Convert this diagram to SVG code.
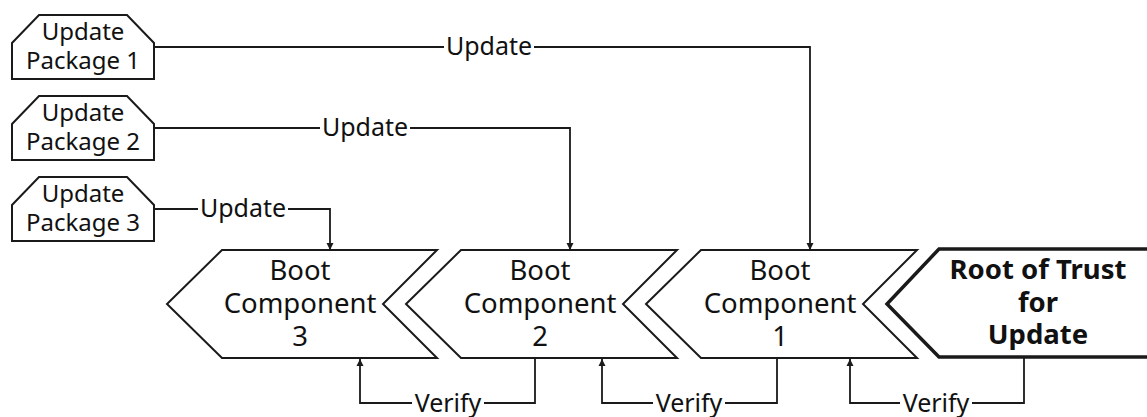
<svg xmlns="http://www.w3.org/2000/svg" width="1147" height="417" viewBox="0 0 1147 417">
  <style>
    .shape { fill: #fff; stroke: #1a1a1a; stroke-width: 2; stroke-linejoin: miter; }
    .root { fill: #fff; stroke: #1a1a1a; stroke-width: 3.5; }
    .wire { fill: none; stroke: #1a1a1a; stroke-width: 1.8; }
    text { font-family: "Noto Sans", "Open Sans", sans-serif; fill: #111; text-anchor: middle; }
    .pkg { font-size: 24px; }
    .boot { font-size: 27.5px; }
    .rot { font-size: 27.5px; font-weight: bold; }
    .lbl { font-size: 25px; }
    .bg { fill: #fff; stroke: none; }
  </style>
  <defs>
    <marker id="arrow" viewBox="0 0 10 10" refX="10" refY="5" markerWidth="7" markerHeight="9" markerUnits="userSpaceOnUse" orient="auto">
      <path d="M0,0 L10,5 L0,10 z" fill="#1a1a1a"/>
    </marker>
  </defs>

  <!-- update packages -->
  <g id="pkg1">
    <path class="shape" d="M12,43 L39,15 L127,15 L154,43 L154,79 L12,79 Z"/>
    <text class="pkg" x="83" y="40">Update</text>
    <text class="pkg" x="83" y="69">Package 1</text>
  </g>
  <g id="pkg2">
    <path class="shape" d="M12,124 L39,96 L127,96 L154,124 L154,160 L12,160 Z"/>
    <text class="pkg" x="83" y="121">Update</text>
    <text class="pkg" x="83" y="150">Package 2</text>
  </g>
  <g id="pkg3">
    <path class="shape" d="M12,205 L39,177 L127,177 L154,205 L154,241 L12,241 Z"/>
    <text class="pkg" x="83" y="202">Update</text>
    <text class="pkg" x="83" y="231">Package 3</text>
  </g>

  <!-- boot chain -->
  <g id="boot3">
    <path class="shape" d="M222,250 L437,250 L383,304 L437,358 L222,358 L167,304 Z"/>
    <text class="boot" x="300" y="280">Boot</text>
    <text class="boot" x="300" y="313">Component</text>
    <text class="boot" x="300" y="346">3</text>
  </g>
  <g id="boot2">
    <path class="shape" d="M461,250 L677,250 L623,304 L677,358 L461,358 L406,304 Z"/>
    <text class="boot" x="540" y="280">Boot</text>
    <text class="boot" x="540" y="313">Component</text>
    <text class="boot" x="540" y="346">2</text>
  </g>
  <g id="boot1">
    <path class="shape" d="M701,250 L917,250 L863,304 L917,358 L701,358 L646,304 Z"/>
    <text class="boot" x="780" y="280">Boot</text>
    <text class="boot" x="780" y="313">Component</text>
    <text class="boot" x="780" y="346">1</text>
  </g>
  <g id="root">
    <path class="root" d="M1160,249 L939,249 L887,304 L939,357 L1160,357"/>
    <text class="rot" x="1038" y="279">Root of Trust</text>
    <text class="rot" x="1038" y="312">for</text>
    <text class="rot" x="1038" y="344">Update</text>
  </g>

  <!-- connectors -->
  <g id="connectors">
    <path class="wire" d="M154,47 H810 V250" marker-end="url(#arrow)"/>
    <path class="wire" d="M154,128 H570 V250" marker-end="url(#arrow)"/>
    <path class="wire" d="M154,209 H330 V250" marker-end="url(#arrow)"/>
    <path class="wire" d="M1024,357 V403 H850 V359" marker-end="url(#arrow)"/>
    <path class="wire" d="M777,358 V403 H602 V359" marker-end="url(#arrow)"/>
    <path class="wire" d="M535,358 V403 H360 V359" marker-end="url(#arrow)"/>

    <rect class="bg" x="444" y="36" width="90" height="22"/>
    <text class="lbl" x="489" y="55">Update</text>
    <rect class="bg" x="320" y="117" width="90" height="22"/>
    <text class="lbl" x="365" y="136">Update</text>
    <rect class="bg" x="198" y="198" width="90" height="22"/>
    <text class="lbl" x="243" y="217">Update</text>

    <rect class="bg" x="900" y="392" width="72" height="25"/>
    <text class="lbl" x="936" y="412">Verify</text>
    <rect class="bg" x="653" y="392" width="72" height="25"/>
    <text class="lbl" x="689" y="412">Verify</text>
    <rect class="bg" x="412" y="392" width="72" height="25"/>
    <text class="lbl" x="448" y="412">Verify</text>
  </g>
</svg>
